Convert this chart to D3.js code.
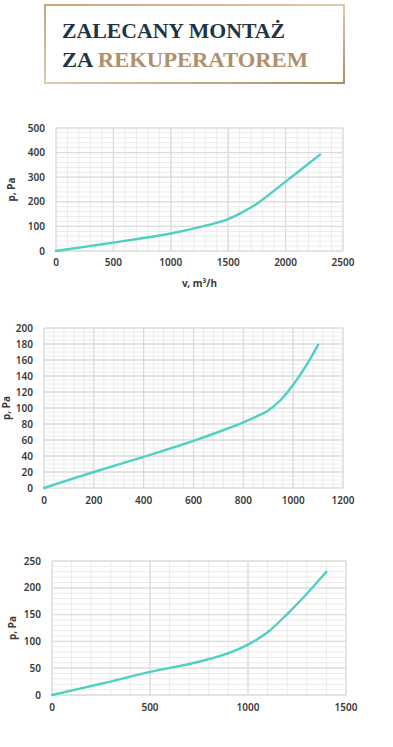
<!DOCTYPE html>
<html>
<head>
<meta charset="utf-8">
<script src="https://cdn.jsdelivr.net/npm/d3@7"></script>
<style>
  html, body { margin: 0; padding: 0; background: #fff; }
  svg { display: block; }
  .tick-label { font-family: "Noto Sans", sans-serif; font-size: 10px; font-weight: 600; fill: #3a3a3a; }
  .axis-title { font-family: "Noto Sans", sans-serif; font-size: 10px; font-weight: 700; fill: #3a3a3a; }
</style>
</head>
<body>
<div id="chart"></div>
<script>
const WIDTH = 393;
const HEIGHT = 747;
const LINE_COLOR = '#4fd0c4';
const MAJOR_GRID = '#dcdcdc';
const MINOR_GRID = '#ececec';

// chart 1
const flow1 = [0, 250, 500, 750, 1000, 1250, 1500, 1625, 1750, 2000, 2300];
const pressure1 = [0, 17, 34, 52, 71, 97, 130, 158, 192, 282, 392];
const xTicks1 = [0, 500, 1000, 1500, 2000, 2500];
const yTicks1 = [0, 100, 200, 300, 400, 500];

// chart 2
const flow2 = [0, 200, 400, 600, 700, 800, 850, 900, 950, 1000, 1050, 1100];
const pressure2 = [0, 20, 39, 59, 70, 82, 89, 97, 110, 129, 152, 179];
const xTicks2 = [0, 200, 400, 600, 800, 1000, 1200];
const yTicks2 = [0, 20, 40, 60, 80, 100, 120, 140, 160, 180, 200];

// chart 3
const flow3 = [0, 250, 500, 750, 900, 1000, 1100, 1200, 1300, 1400];
const pressure3 = [0, 21, 43, 62, 78, 94, 117, 151, 189, 230];
const xTicks3 = [0, 500, 1000, 1500];
const yTicks3 = [0, 50, 100, 150, 200, 250];

const charts = [
  { flow: flow1, pressure: pressure1, xTicks: xTicks1, yTicks: yTicks1,
    xMinor: 100, yMinor: 20,
    left: 56, right: 343, top: 128, bottom: 251,
    xTitle: 'v, m³/h', xTitleY: 287, yTitleX: 15, tickGap: 11 },
  { flow: flow2, pressure: pressure2, xTicks: xTicks2, yTicks: yTicks2,
    xMinor: 40, yMinor: 5,
    left: 44, right: 343, top: 328, bottom: 488,
    xTitle: null, yTitleX: 10, tickGap: 12 },
  { flow: flow3, pressure: pressure3, xTicks: xTicks3, yTicks: yTicks3,
    xMinor: 100, yMinor: 10,
    left: 52, right: 346, top: 561, bottom: 695,
    xTitle: null, yTitleX: 16, tickGap: 12 },
];

const svg = d3.select('#chart').append('svg')
  .attr('width', WIDTH)
  .attr('height', HEIGHT);

// title box
let defs = svg.append('defs');
let grad = defs.append('linearGradient')
  .attr('id', 'gold')
  .attr('x1', '0%').attr('y1', '0%')
  .attr('x2', '100%').attr('y2', '100%');
grad.append('stop').attr('offset', '0%').attr('stop-color', '#c8a47c');
grad.append('stop').attr('offset', '50%').attr('stop-color', '#e3c9a6');
grad.append('stop').attr('offset', '100%').attr('stop-color', '#b08a62');

svg.append('rect')
  .attr('x', 45).attr('y', 5)
  .attr('width', 299).attr('height', 78)
  .attr('fill', 'none')
  .attr('stroke', 'url(#gold)')
  .attr('stroke-width', 2);

let title = svg.append('g')
  .style('font-family', '"Liberation Serif", serif')
  .style('font-weight', 'bold')
  .style('font-size', '21px');
title.append('text')
  .attr('x', 62).attr('y', 38)
  .attr('fill', '#1f3546')
  .attr('textLength', 223)
  .attr('lengthAdjust', 'spacingAndGlyphs')
  .text('ZALECANY MONTAŻ');
let line2 = title.append('text')
  .attr('x', 62).attr('y', 67)
  .attr('textLength', 246)
  .attr('lengthAdjust', 'spacingAndGlyphs');
line2.append('tspan').attr('fill', '#1f3546').text('ZA ');
line2.append('tspan').attr('fill', '#b08f6c').text('REKUPERATOREM');

charts.forEach((c) => {
  let xMax = c.xTicks[c.xTicks.length - 1];
  let yMax = c.yTicks[c.yTicks.length - 1];
  let x = d3.scaleLinear().domain([0, xMax]).range([c.left, c.right]);
  let y = d3.scaleLinear().domain([0, yMax]).range([c.bottom, c.top]);
  let g = svg.append('g');

  // minor grid
  let xMinorVals = d3.range(0, xMax + 0.001, c.xMinor);
  let yMinorVals = d3.range(0, yMax + 0.001, c.yMinor);
  g.selectAll('.xminor').data(xMinorVals).enter().append('line')
    .attr('x1', (d) => x(d)).attr('x2', (d) => x(d))
    .attr('y1', c.top).attr('y2', c.bottom)
    .attr('stroke', MINOR_GRID).attr('stroke-width', 1);
  g.selectAll('.yminor').data(yMinorVals).enter().append('line')
    .attr('x1', c.left).attr('x2', c.right)
    .attr('y1', (d) => y(d)).attr('y2', (d) => y(d))
    .attr('stroke', MINOR_GRID).attr('stroke-width', 1);

  // major grid
  g.selectAll('.xmajor').data(c.xTicks).enter().append('line')
    .attr('x1', (d) => x(d)).attr('x2', (d) => x(d))
    .attr('y1', c.top).attr('y2', c.bottom)
    .attr('stroke', MAJOR_GRID).attr('stroke-width', 1.3);
  g.selectAll('.ymajor').data(c.yTicks).enter().append('line')
    .attr('x1', c.left).attr('x2', c.right)
    .attr('y1', (d) => y(d)).attr('y2', (d) => y(d))
    .attr('stroke', MAJOR_GRID).attr('stroke-width', 1.3);

  // tick labels
  g.selectAll('.xlab').data(c.xTicks).enter().append('text')
    .attr('class', 'tick-label')
    .attr('x', (d) => x(d))
    .attr('y', c.bottom + c.tickGap + 4)
    .attr('text-anchor', 'middle')
    .text((d) => d);
  g.selectAll('.ylab').data(c.yTicks).enter().append('text')
    .attr('class', 'tick-label')
    .attr('x', c.left - 11)
    .attr('y', (d) => y(d) + 3.5)
    .attr('text-anchor', 'end')
    .text((d) => d);

  // axis titles
  g.append('text')
    .attr('class', 'axis-title')
    .attr('transform', 'translate(' + c.yTitleX + ',' + (c.top + c.bottom) / 2 + ') rotate(-90)')
    .attr('text-anchor', 'middle')
    .text('p, Pa');
  if (c.xTitle) {
    g.append('text')
      .attr('class', 'axis-title')
      .attr('x', (c.left + c.right) / 2)
      .attr('y', c.xTitleY)
      .attr('text-anchor', 'middle')
      .text(c.xTitle);
  }

  // curve
  let points = c.flow.map((f, i) => [f, c.pressure[i]]);
  let line = d3.line()
    .x((d) => x(d[0]))
    .y((d) => y(d[1]))
    .curve(d3.curveCatmullRom.alpha(0.5));
  g.append('path')
    .datum(points)
    .attr('d', line)
    .attr('fill', 'none')
    .attr('stroke', LINE_COLOR)
    .attr('stroke-width', 2.4)
    .attr('stroke-linecap', 'round');
});
</script>
</body>
</html>
